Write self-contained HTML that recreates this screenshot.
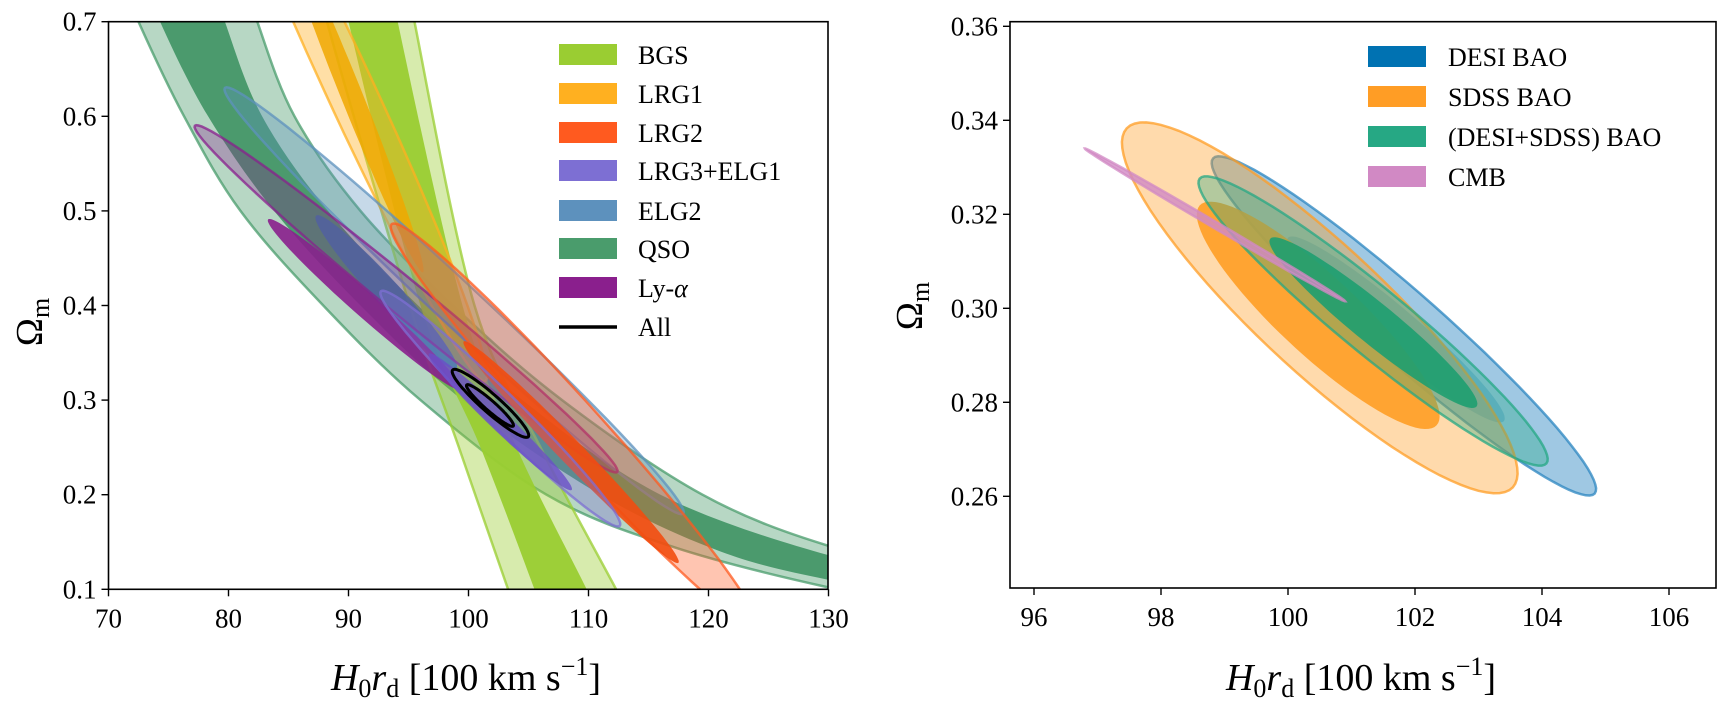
<!DOCTYPE html>
<html><head><meta charset="utf-8">
<style>
html,body{margin:0;padding:0;background:#fff;}
svg{display:block;}
text{font-family:"Liberation Serif",serif;fill:#000;}
</style></head>
<body>
<svg id="fig" width="1723" height="704" viewBox="0 0 1723 704" xmlns="http://www.w3.org/2000/svg">
<defs>
<clipPath id="clipL"><rect x="108.5" y="21.7" width="719.5" height="567.6"/></clipPath>
<clipPath id="clipR"><rect x="1010" y="21.7" width="706" height="566.3"/></clipPath>
</defs>
<g id="leftMarks" clip-path="url(#clipL)"></g>
<g id="rightMarks" clip-path="url(#clipR)"></g>
<g id="axesL"></g>
<g id="axesR"></g>

<g font-size="26">
 <g><rect x="559" y="44" width="58" height="21" fill="#9acd32"/><text x="638" y="64">BGS</text></g>
 <g><rect x="559" y="83" width="58" height="21" fill="#ffb020"/><text x="638" y="103">LRG1</text></g>
 <g><rect x="559" y="122" width="58" height="21" fill="#ff5a1f"/><text x="638" y="142">LRG2</text></g>
 <g><rect x="559" y="160" width="58" height="21" fill="#7d6fd3"/><text x="638" y="180">LRG3+ELG1</text></g>
 <g><rect x="559" y="200" width="58" height="21" fill="#5d91bd"/><text x="638" y="220">ELG2</text></g>
 <g><rect x="559" y="238" width="58" height="21" fill="#4a9c6c"/><text x="638" y="258">QSO</text></g>
 <g><rect x="559" y="277" width="58" height="21" fill="#8a1f8d"/><text x="638" y="297">Ly-<tspan font-style="italic">α</tspan></text></g>
 <g><line x1="559" y1="327" x2="617" y2="327" stroke="#000" stroke-width="3.5"/><text x="638" y="336">All</text></g>
</g>
<g font-size="26">
 <g><rect x="1368" y="46" width="58" height="21" fill="#0072b2"/><text x="1448" y="66">DESI BAO</text></g>
 <g><rect x="1368" y="86" width="58" height="21" fill="#ff9d25"/><text x="1448" y="106">SDSS BAO</text></g>
 <g><rect x="1368" y="126" width="58" height="21" fill="#26a884"/><text x="1448" y="146">(DESI+SDSS) BAO</text></g>
 <g><rect x="1368" y="166" width="58" height="21" fill="#d189c4"/><text x="1448" y="186">CMB</text></g>
</g>
</svg>
<script>
// ---------- data (left panel) ----------
const xTicksL = [70, 80, 90, 100, 110, 120, 130];
const yTicksL = [0.1, 0.2, 0.3, 0.4, 0.5, 0.6, 0.7];
const yTickLabelsL = ["0.1","0.2","0.3","0.4","0.5","0.6","0.7"];
const qsoOuterLo = [[71,0.75],[72.5,0.7],[76.3,0.6],[81,0.5],[87.9,0.4],[96,0.3],[106.5,0.2],[117,0.145],[130,0.102],[140,0.08]];
const qsoOuterHi = [[81.3,0.75],[82.4,0.7],[85.5,0.6],[91,0.5],[98.7,0.4],[107.8,0.3],[119.5,0.2],[130,0.146],[140,0.12]];
const qsoInnerLo = [[73,0.75],[74.3,0.7],[78.3,0.6],[83.8,0.5],[91,0.4],[99.5,0.3],[111,0.2],[121,0.14],[130,0.11],[140,0.09]];
const qsoInnerHi = [[78.5,0.75],[79.7,0.7],[82.8,0.6],[88.3,0.5],[95.8,0.4],[104.5,0.3],[116,0.2],[130,0.136],[140,0.115]];
const bgsOuterLo = [[87.5,0.75],[88.2,0.7],[95.1,0.4],[99.2,0.25],[103.3,0.1],[104,0.08]];
const bgsOuterHi = [[95,0.75],[95.5,0.7],[100.5,0.4],[106,0.25],[112.3,0.1],[113,0.08]];
const bgsInnerLo = [[89.5,0.75],[90.0,0.7],[96,0.4],[101,0.25],[105.5,0.1],[106,0.08]];
const bgsInnerHi = [[93.6,0.75],[94.1,0.7],[99.5,0.4],[104,0.25],[109.85,0.1],[110.4,0.08]];
const lrg1Outer = [79.1, 0.93, 101.4, 0.32, 2.0];
const lrg1Inner = [84.3, 0.81, 96.2, 0.435, 0.9];
const lrg2Outer = [93.6, 0.486, 124, 0.06, 2.1];
const lrg2Inner = [99.6, 0.362, 117.5, 0.128, 1.0];
const lrg3Outer = [92.7, 0.415, 112.6, 0.167, 1.4];
const lrg3Inner = [96.7, 0.349, 108.6, 0.205, 0.8];
const elg2Outer = [79.7, 0.63, 117.9, 0.18, 1.8];
const elg2Inner = [87.3, 0.495, 99.0, 0.333, 1.1];
const lyaOuter = [77.2, 0.59, 112.4, 0.224, 1.5];
const lyaInner = [83.3, 0.491, 99.4, 0.311, 1.0];
const allOuter = [98.68, 0.3318, 104.98, 0.2613, 0.75];
const allInner = [99.85, 0.316, 103.73, 0.2726, 0.42];
// ---------- data (right panel) ----------
const xTicksR = [96, 98, 100, 102, 104, 106];
const yTicksR = [0.26, 0.28, 0.30, 0.32, 0.34, 0.36];
const yTickLabelsR = ["0.26","0.28","0.30","0.32","0.34","0.36"];
const sdssOuter = [97.46, 0.3383, 103.54, 0.2619, 1.0];
const sdssInner = [98.61, 0.3219, 102.34, 0.2751, 0.62];
const desiOuter = [98.82, 0.3319, 104.83, 0.2606, 0.55];
const desiInner = [100.0, 0.3150, 103.4, 0.2760, 0.33];
const combOuter = [98.61, 0.3276, 104.07, 0.267, 0.52];
const combInner = [99.72, 0.3148, 102.97, 0.2791, 0.32];
const cmbBand = [96.8, 0.334, 100.9, 0.3015, 0.05];

// ---------- axis functions ----------
const xL = d => 108.5 + (d - 70) * 12;
const yL = d => 589.3 - (d - 0.1) * 946;
const xR = d => 1034 + (d - 96) * 63.5;
const yR = d => 308.3 - (d - 0.30) * 4700;
const NS = "http://www.w3.org/2000/svg";
function mk(tag, attrs, parent) {
  const e = document.createElementNS(NS, tag);
  for (const k in attrs) e.setAttribute(k, attrs[k]);
  parent.appendChild(e);
  return e;
}
function smooth(pts) {
  // Catmull-Rom to cubic bezier
  let d = "";
  for (let i = 0; i < pts.length - 1; i++) {
    const p0 = pts[Math.max(0, i - 1)], p1 = pts[i], p2 = pts[i + 1], p3 = pts[Math.min(pts.length - 1, i + 2)];
    const c1 = [p1[0] + (p2[0] - p0[0]) / 6, p1[1] + (p2[1] - p0[1]) / 6];
    const c2 = [p2[0] - (p3[0] - p1[0]) / 6, p2[1] - (p3[1] - p1[1]) / 6];
    d += "C" + c1.map(v => v.toFixed(1)).join(",") + " " + c2.map(v => v.toFixed(1)).join(",") + " " + p2.map(v => v.toFixed(1)).join(",");
  }
  return d;
}
function bandPath(lo, hi, fx, fy) {
  const a = lo.map(p => [fx(p[0]), fy(p[1])]);
  const b = hi.slice().reverse().map(p => [fx(p[0]), fy(p[1])]);
  return "M" + a[0].map(v => v.toFixed(1)).join(",") + smooth(a) + "L" + b[0].map(v => v.toFixed(1)).join(",") + smooth(b) + "Z";
}
function ellPath(e, fx, fy, unit) {
  const ax = fx(e[0]), ay = fy(e[1]), bx = fx(e[2]), by = fy(e[3]);
  const cx = (ax + bx) / 2, cy = (ay + by) / 2;
  const vx = ax - cx, vy = ay - cy;
  const len = Math.hypot(vx, vy);
  const nx = -vy / len, ny = vx / len;
  const b = e[4] * unit;
  let d = "";
  for (let i = 0; i <= 90; i++) {
    const t = i / 90 * 2 * Math.PI;
    const px = cx + vx * Math.cos(t) + nx * b * Math.sin(t);
    const py = cy + vy * Math.cos(t) + ny * b * Math.sin(t);
    d += (i ? "L" : "M") + px.toFixed(1) + "," + py.toFixed(1);
  }
  return d + "Z";
}
const gL = document.getElementById("leftMarks");
const gR = document.getElementById("rightMarks");
function drawShape(d, parent, fill, op, stroke, name) {
  const p = mk("path", {d: d, fill: fill, "fill-opacity": op, stroke: stroke, "stroke-width": 2.5, "stroke-opacity": 0.75}, parent);
  
  
  return p;
}
drawShape(bandPath(qsoOuterLo, qsoOuterHi, xL, yL), gL, "#4a9c6c", 0.4, "#4a9c6c", "qso-outer-band");
drawShape(bandPath(qsoInnerLo, qsoInnerHi, xL, yL), gL, "#3f9464", 0.9, "none", "qso-inner-band");
drawShape(bandPath(bgsOuterLo, bgsOuterHi, xL, yL), gL, "#9acd32", 0.4, "#9acd32", "bgs-outer-band");
drawShape(bandPath(bgsInnerLo, bgsInnerHi, xL, yL), gL, "#9acd32", 0.95, "none", "bgs-inner-band");
drawShape(ellPath(lrg1Outer, xL, yL, 12), gL, "#ffb020", 0.4, "#ffb020", "lrg1-outer");
drawShape(ellPath(lrg1Inner, xL, yL, 12), gL, "#f0a800", 0.85, "none", "lrg1-inner");
drawShape(ellPath(elg2Outer, xL, yL, 12), gL, "#5d91bd", 0.35, "#5d91bd", "elg2-outer");
drawShape(ellPath(elg2Inner, xL, yL, 12), gL, "#3a7fa5", 0.9, "none", "elg2-inner");
drawShape(ellPath(lyaOuter, xL, yL, 12), gL, "#8a1f8d", 0.3, "#8a1f8d", "ly-alpha-outer");
drawShape(ellPath(lyaInner, xL, yL, 12), gL, "#8a1f8d", 0.9, "none", "ly-alpha-inner");
drawShape(ellPath(lrg2Outer, xL, yL, 12), gL, "#ff5a1f", 0.35, "#ff5a1f", "lrg2-outer");
drawShape(ellPath(lrg2Inner, xL, yL, 12), gL, "#f24d10", 0.9, "none", "lrg2-inner");
drawShape(ellPath(lrg3Outer, xL, yL, 12), gL, "#7d6fd3", 0.35, "#7d6fd3", "lrg3-elg1-outer");
drawShape(ellPath(lrg3Inner, xL, yL, 12), gL, "#6a4fc8", 0.8, "none", "lrg3-elg1-inner");
const ao = mk("path", {d: ellPath(allOuter, xL, yL, 12), fill: "none", stroke: "#000", "stroke-width": 3}, gL);


const ai = mk("path", {d: ellPath(allInner, xL, yL, 12), fill: "none", stroke: "#000", "stroke-width": 3}, gL);


drawShape(ellPath(desiOuter, xR, yR, 63.5), gR, "#2b86c0", 0.45, "#2b86c0", "desi-outer");
drawShape(ellPath(desiInner, xR, yR, 63.5), gR, "#0072b2", 0.25, "none", "desi-inner");
drawShape(ellPath(sdssOuter, xR, yR, 63.5), gR, "#ff9d25", 0.38, "#ff9d25", "sdss-outer");
drawShape(ellPath(sdssInner, xR, yR, 63.5), gR, "#ff9d25", 0.9, "none", "sdss-inner");
drawShape(ellPath(combOuter, xR, yR, 63.5), gR, "#26a884", 0.35, "#26a884", "desi-sdss-outer");
drawShape(ellPath(combInner, xR, yR, 63.5), gR, "#1e9e70", 0.9, "none", "desi-sdss-inner");
drawShape(ellPath(cmbBand, xR, yR, 63.5), gR, "#d189c4", 0.8, "#d189c4", "cmb");

function axes(g, x0, x1, y0, y1, xt, fx, yt, ytl, fy, xlabCx, ylabX, ylabY, pfx) {
  const box = mk("rect", {x: x0, y: y0, width: x1 - x0, height: y1 - y0, fill: "none", stroke: "#000", "stroke-width": 1.6}, g);
  
  
  xt.forEach(v => {
    const x = fx(v);
    mk("line", {x1: x, y1: y1, x2: x, y2: y1 + 7, stroke: "#000", "stroke-width": 1.4}, g);
    const t = mk("text", {x: x, y: y1 + 38, "text-anchor": "middle", "font-size": 27}, g);
    t.textContent = String(v);
    
    
  });
  yt.forEach((v, i) => {
    const y = fy(v);
    mk("line", {x1: x0 - 7, y1: y, x2: x0, y2: y, stroke: "#000", "stroke-width": 1.4}, g);
    const t = mk("text", {x: x0 - 12, y: y + 9, "text-anchor": "end", "font-size": 27}, g);
    t.textContent = ytl[i];
    
    
  });
  const xl = mk("text", {x: xlabCx, y: 690, "text-anchor": "middle", "font-size": 38}, g);
  xl.innerHTML = '<tspan font-style="italic">H</tspan><tspan font-size="26" dy="7">0</tspan><tspan font-style="italic" dy="-7">r</tspan><tspan font-size="26" dy="7">d</tspan><tspan dy="-7"> [100 km s</tspan><tspan font-size="26" dy="-15">−1</tspan><tspan dy="15">]</tspan>';
  
  
  const yl = mk("text", {x: 0, y: 0, "text-anchor": "middle", "font-size": 38, transform: "translate(" + ylabX + "," + ylabY + ") rotate(-90)"}, g);
  yl.innerHTML = 'Ω<tspan font-size="26" dy="7">m</tspan>';
  
  
}
axes(document.getElementById("axesL"), 108.5, 828, 21.7, 589.3, xTicksL, xL, yTicksL, yTickLabelsL, yL, 466, 42, 322, "left");
axes(document.getElementById("axesR"), 1010, 1716, 21.7, 588, xTicksR, xR, yTicksR, yTickLabelsR, yR, 1361, 922, 306, "right");
</script>
</body></html>
